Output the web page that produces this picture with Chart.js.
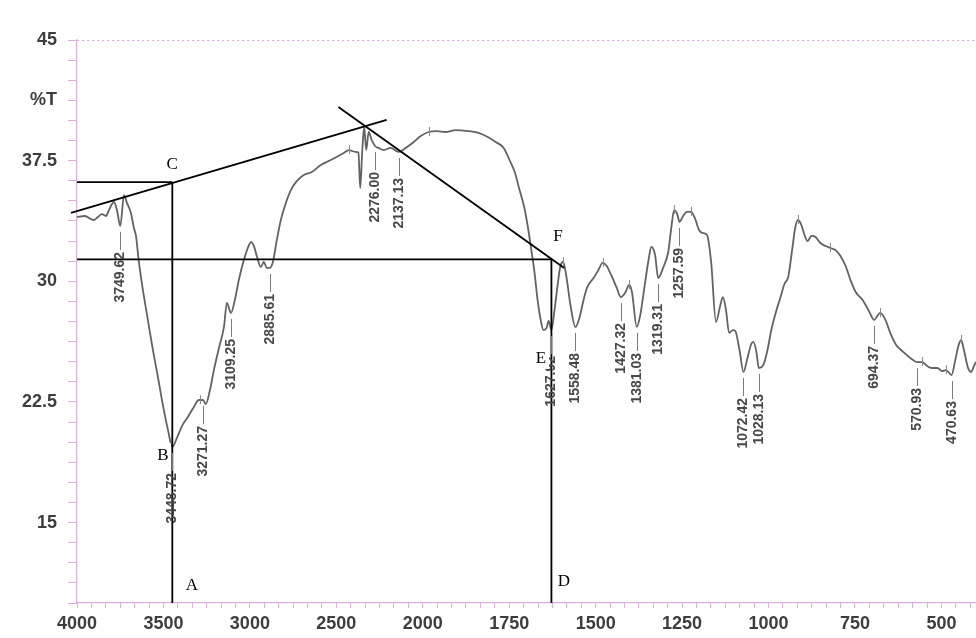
<!DOCTYPE html>
<html>
<head>
<meta charset="utf-8">
<title>FTIR spectrum</title>
<script src="https://cdn.jsdelivr.net/npm/chart.js@4.4.1/dist/chart.umd.min.js"></script>
<style>
  html, body { margin: 0; padding: 0; background: #fff; overflow: hidden; }
  #wrap { width: 976px; height: 638px; }
</style>
</head>
<body>
<div id="wrap"><canvas id="ir" width="976" height="638"></canvas></div>
<script>
// trace: wavenumber (cm-1) and transmittance (%T)
const wavenumbers = [
  4000, 3954, 3919, 3902, 3879, 3856, 3832, 3815, 3786, 3769, 3749.62, 3728, 3711, 3688, 3671, 3659,
  3642, 3619, 3590, 3561, 3532, 3503, 3474, 3448.72, 3422, 3393, 3359, 3324, 3295, 3271.27, 3255, 3231,
  3208, 3179, 3150, 3133, 3109.25, 3087, 3064, 3035, 3012, 2994, 2977, 2960, 2937, 2919, 2902, 2885.61,
  2867, 2844, 2821, 2792, 2763, 2729, 2688, 2642, 2590, 2532, 2457, 2428, 2388, 2372, 2362, 2350,
  2339, 2327, 2313, 2295, 2276, 2255, 2226, 2186, 2137.13, 2099, 2052, 2012, 1983, 1960, 1934, 1905,
  1870, 1839, 1812, 1789, 1766, 1749, 1734, 1720, 1708, 1697, 1686, 1677, 1668, 1659, 1651, 1642,
  1636, 1627.92, 1619, 1610, 1602, 1594, 1584, 1573, 1558.48, 1547, 1535, 1524, 1506, 1492, 1480, 1468,
  1454, 1440, 1427.32, 1415, 1403, 1395, 1381.03, 1371, 1360, 1348, 1339, 1328, 1319.31, 1305, 1290, 1282,
  1273, 1264, 1257.59, 1247, 1236, 1224, 1213, 1201, 1190, 1178, 1166, 1152, 1140, 1132, 1123, 1114,
  1103, 1096, 1084, 1072.42, 1061, 1050, 1044, 1035, 1028.13, 1015, 1003, 992, 977, 966, 954, 943,
  931, 923, 915, 905, 896, 887, 876, 864, 850, 835, 821, 806, 792, 777, 763, 748,
  728, 711, 694.37, 685, 677, 662, 648, 631, 610, 590, 570.93, 556, 541, 527, 512, 498,
  487, 470.63, 460, 451, 443, 435, 423, 414, 406, 400
];
const transmittance = [
  34.0, 34.06, 33.87, 33.81, 34.0, 34.18, 34.06, 34.43, 34.93, 34.43, 33.44, 35.36, 34.87, 34.25, 33.31, 32.82,
  31.2, 29.46, 27.6, 25.73, 24.05, 22.3, 20.76, 19.7, 20.26, 21.0, 21.56, 22.19, 22.62, 22.62, 22.37, 23.24,
  24.49, 25.85, 27.16, 28.65, 28.03, 28.84, 30.08, 31.32, 32.07, 32.44, 32.2, 31.57, 30.89, 31.2, 30.83, 30.83,
  31.2, 32.57, 33.81, 34.87, 35.67, 36.23, 36.61, 36.79, 37.23, 37.54, 37.98, 38.16, 38.04, 38.0, 35.8, 38.1,
  39.59, 38.16, 39.28, 38.78, 38.41, 38.29, 38.16, 38.29, 38.04, 38.29, 38.66, 39.03, 39.28, 39.34, 39.28, 39.4,
  39.34, 39.22, 38.97, 38.66, 38.29, 37.54, 36.79, 35.67, 34.74, 33.5, 31.94, 30.58, 28.84, 27.6, 26.97, 27.1,
  27.53, 26.97, 28.2, 29.77, 30.95, 31.2, 30.2, 28.53, 27.16, 27.72, 28.84, 29.65, 30.2, 30.7, 31.14, 30.95,
  30.33, 29.65, 29.02, 29.27, 29.77, 29.33, 27.16, 27.9, 29.46, 31.2, 32.13, 31.63, 30.2, 30.83, 31.82, 33.19,
  34.43, 34.18, 33.69, 34.06, 34.31, 34.31, 33.93, 33.19, 33.0, 32.88, 31.2, 27.47, 28.46, 29.02, 28.21, 26.79,
  26.97, 26.91, 25.73, 24.36, 25.23, 26.1, 26.23, 25.6, 24.61, 24.8, 25.73, 26.97, 28.21, 28.96, 29.83, 30.27,
  32.07, 33.31, 33.81, 33.5, 32.88, 32.5, 32.82, 32.75, 32.38, 32.19, 32.07, 31.94, 31.57, 30.95, 30.08, 29.33,
  28.84, 28.21, 27.6, 27.85, 28.03, 27.6, 26.79, 26.04, 25.6, 25.23, 24.98, 24.98, 24.73, 24.61, 24.61, 24.42,
  24.48, 24.17, 25.1, 25.98, 26.35, 25.73, 24.61, 24.36, 24.73, 24.98
];

// labelled peaks (cm-1)
const peakWn = [3749.62, 3448.72, 3271.27, 3109.25, 2885.61, 2276.00, 2137.13, 1627.92, 1558.48,
  1427.32, 1381.03, 1319.31, 1257.59, 1072.42, 1028.13, 694.37, 570.93, 470.63];
// unlabelled pick marks on the trace
const markWn = [3290, 2428, 1983, 1594, 1480, 1403, 1273, 1224, 915, 821, 677, 556, 487, 443];

// construction lines, [wavenumber], [%T]
const lineCWn = [4000, 3448.72], lineCT = [36.17, 36.17];
const lineAWn = [3448.72, 3448.72], lineAT = [36.17, 10];
const tangentWn = [4035, 2209], tangentT = [34.25, 40.03];
const lineFWn = [4000, 1627.92], lineFT = [31.36, 31.36];
const lineDWn = [1627.92, 1627.92], lineDT = [31.36, 10];
const slopeWn = [2488, 1591], slopeT = [40.84, 30.83];

const letters = ['A', 'B', 'C', 'D', 'E', 'F'];
const letterWn = [3335, 3503, 3450, 1592, 1658, 1609];
const letterT = [11.12, 19.2, 37.3, 11.37, 25.29, 32.82];

// y ticks every 1.25 %T, only some carry a label
const yLabels = { 45: '45', 41.25: '%T', 37.5: '37.5', 30: '30', 22.5: '22.5', 15: '15' };

// the instrument doubles the x scale below 2000 cm-1; x runs in tick units (6 per label)
function toP(wn) {
  return wn >= 2000 ? (4000 - wn) * 0.012 : 24 + (2000 - wn) * 0.024;
}
function fromP(p) {
  return p <= 24 ? 4000 - p / 0.012 : 2000 - (p - 24) / 0.024;
}

function traceAt(wn) {
  for (let i = 0; i < wavenumbers.length - 1; i++) {
    const a = wavenumbers[i], b = wavenumbers[i + 1];
    if (wn <= a && wn >= b) {
      const f = (a - wn) / (a - b);
      return transmittance[i] + f * (transmittance[i + 1] - transmittance[i]);
    }
  }
  return transmittance[transmittance.length - 1];
}

const pts = (ws, ts) => ws.map((w, i) => ({ x: toP(w), y: ts[i] }));

const pink = '#dcb0dc';
const tickFont = { family: '"Liberation Sans", Arial, sans-serif', size: 18, weight: 'bold' };

function guide(ws, ts) {
  return {
    data: pts(ws, ts),
    borderColor: '#000',
    borderWidth: 1.8,
    pointRadius: 0,
    tension: 0,
    clip: false,
    order: 0
  };
}

const peakText = {
  id: 'peakText',
  afterDatasetsDraw(chart) {
    const { ctx, scales: { x, y } } = chart;
    ctx.save();

    ctx.strokeStyle = '#8c8c8c';
    ctx.lineWidth = 1;
    markWn.forEach(w => {
      const px = Math.round(x.getPixelForValue(toP(w))) + 0.5;
      const py = y.getPixelForValue(traceAt(w));
      ctx.beginPath();
      ctx.moveTo(px, py - 5);
      ctx.lineTo(px, py + 4);
      ctx.stroke();
    });

    ctx.font = 'bold 14px "Liberation Sans", Arial, sans-serif';
    ctx.fillStyle = '#474747';
    ctx.strokeStyle = '#7a7a7a';
    peakWn.forEach(w => {
      const px = Math.round(x.getPixelForValue(toP(w))) + 0.5;
      const py = y.getPixelForValue(traceAt(w));
      ctx.beginPath();
      ctx.moveTo(px, py + 6);
      ctx.lineTo(px, py + 24);
      ctx.stroke();
      ctx.save();
      ctx.translate(px, py + 26);
      ctx.rotate(-Math.PI / 2);
      ctx.textAlign = 'right';
      ctx.textBaseline = 'middle';
      ctx.fillText(w.toFixed(2), 0, 0);
      ctx.restore();
    });

    ctx.font = '17px "Liberation Serif", "Times New Roman", serif';
    ctx.textAlign = 'center';
    ctx.textBaseline = 'middle';
    letters.forEach((t, i) => {
      const px = x.getPixelForValue(toP(letterWn[i]));
      const py = y.getPixelForValue(letterT[i]);
      ctx.fillStyle = '#fff';
      ctx.fillRect(px - 8, py - 12, 16, 24);
      ctx.fillStyle = '#000';
      ctx.fillText(t, px, py + 1);
    });
    ctx.restore();
  }
};

new Chart(document.getElementById('ir'), {
  type: 'line',
  data: {
    datasets: [
      guide(lineCWn, lineCT),
      guide(lineAWn, lineAT),
      guide(tangentWn, tangentT),
      guide(lineFWn, lineFT),
      guide(lineDWn, lineDT),
      guide(slopeWn, slopeT),
      {
        data: pts(wavenumbers, transmittance),
        borderColor: '#626262',
        borderWidth: 1.8,
        pointRadius: 0,
        cubicInterpolationMode: 'monotone',
        order: 1
      }
    ]
  },
  options: {
    responsive: false,
    animation: false,
    devicePixelRatio: 1,
    events: [],
    layout: { padding: { top: 40, right: 0, left: 0, bottom: 0 } },
    plugins: { legend: { display: false }, tooltip: { enabled: false } },
    scales: {
      x: {
        type: 'linear',
        min: 0,
        max: 62.4,
        afterFit: s => { s.height = 35; },
        border: { color: pink, width: 1.2 },
        grid: { drawOnChartArea: false, tickColor: pink, tickLength: 5 },
        ticks: {
          stepSize: 1,
          autoSkip: false,
          includeBounds: false,
          maxRotation: 0,
          padding: 5,
          color: '#3d3d3d',
          font: tickFont,
          callback: v => (Math.abs(v % 6) < 1e-6 ? String(Math.round(fromP(v))) : '')
        }
      },
      y: {
        min: 10,
        max: 45,
        afterFit: s => { s.width = 77; },
        border: { color: pink, width: 1.2, dash: [2, 3] },
        grid: {
          color: c => (c.tick && c.tick.value === 45 ? '#d7a6d7' : 'rgba(0,0,0,0)'),
          tickColor: pink,
          tickLength: 9
        },
        ticks: {
          stepSize: 1.25,
          autoSkip: false,
          padding: 11,
          color: '#3d3d3d',
          font: tickFont,
          callback: v => yLabels[v] || ''
        }
      }
    }
  },
  plugins: [peakText]
});
</script>
</body>
</html>
